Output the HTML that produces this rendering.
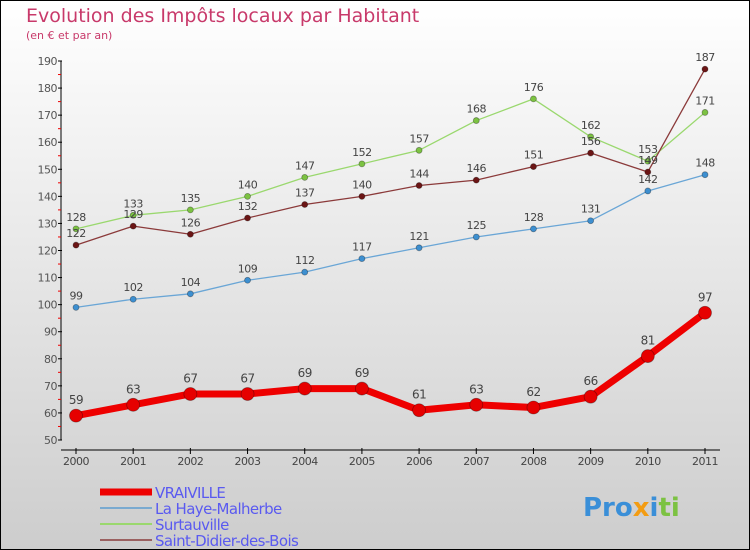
<!DOCTYPE html>
<html><head><meta charset="utf-8"><style>
body{margin:0}
svg{display:block;font-family:"DejaVu Sans","Liberation Sans",sans-serif}
</style></head><body>
<svg width="750" height="550" viewBox="0 0 750 550">
<defs><linearGradient id="bg" x1="0" y1="0" x2="0" y2="1"><stop offset="0" stop-color="#ffffff"/><stop offset="1" stop-color="#cdcdcd"/></linearGradient></defs>
<rect x="0.5" y="0.5" width="749" height="549" fill="url(#bg)" stroke="#000"/>
<text x="26" y="22" font-size="19" fill="#c8396a">Evolution des Impôts locaux par Habitant</text>
<text x="26" y="39" font-size="11" fill="#c8396a">(en € et par an)</text>
<g id="axes"></g>
<g id="series"></g>
<g id="legend"></g>
<text x="583" y="516" font-size="26" font-weight="bold"><tspan fill="#3a8fd8">Pro</tspan><tspan fill="#f39c12">x</tspan><tspan fill="#3a8fd8">i</tspan><tspan fill="#7cc242">ti</tspan></text>
</svg>
<script>
const years=[2000,2001,2002,2003,2004,2005,2006,2007,2008,2009,2010,2011];
const yTicks=[50,60,70,80,90,100,110,120,130,140,150,160,170,180,190];
const vraiville=[59,63,67,67,69,69,61,63,62,66,81,97];
const laHaye=[99,102,104,109,112,117,121,125,128,131,142,148];
const surtauville=[128,133,135,140,147,152,157,168,176,162,153,171];
const saintDidier=[122,129,126,132,137,140,144,146,151,156,149,187];
const NS="http://www.w3.org/2000/svg";
const xs=i=>76+i*(705-76)/11;
const ys=v=>440-(v-50)*(440-61)/140;
function mk(tag,attrs,parent,text){const e=document.createElementNS(NS,tag);for(const k in attrs)e.setAttribute(k,attrs[k]);if(text!==undefined)e.textContent=text;parent.appendChild(e);return e;}
const ax=document.getElementById('axes');
let l=mk('line',{x1:61,y1:61,x2:61,y2:440,stroke:'#000'},ax);


yTicks.forEach((v,i)=>{
 mk('line',{x1:58,y1:ys(v),x2:62,y2:ys(v),stroke:'#000'},ax);
 if(i<yTicks.length-1)mk('line',{x1:58,y1:ys(v+5),x2:61,y2:ys(v+5),stroke:'#e00'},ax);
 const t=mk('text',{x:57,y:ys(v)+4,'font-size':11,fill:'#555','text-anchor':'end','letter-spacing':'-0.5'},ax,v);
 
 
});
l=mk('line',{x1:61,y1:450,x2:720,y2:450,stroke:'#000'},ax);


years.forEach((y,i)=>{
 mk('line',{x1:xs(i),y1:448,x2:xs(i),y2:454,stroke:'#000'},ax);
 const t=mk('text',{x:xs(i),y:465,'font-size':11,fill:'#444','text-anchor':'middle','letter-spacing':'-0.5'},ax,y);
 
 
});
const sg=document.getElementById('series');
function series(name,data,color,dot,w,r,fs){
 const g=mk('g',{},sg);
 
 
 const p=mk('polyline',{points:data.map((v,i)=>xs(i)+','+ys(v)).join(' '),fill:'none',stroke:color,'stroke-width':w,'stroke-linejoin':'round'},g);
 
 
 data.forEach((v,i)=>{
  const c=mk('circle',{cx:xs(i),cy:ys(v),r:r,fill:dot,stroke:'rgba(0,0,0,0.35)','stroke-width':0.8},g);
  
  
  const t=mk('text',{x:xs(i),y:ys(v)-(r+5),'font-size':fs,fill:'#444','text-anchor':'middle','letter-spacing':'-0.5'},g,v);
  
  
 });
}
series('la-haye-malherbe',laHaye,'#6aa6d6','#3d8fd0',1.3,3,11);
series('surtauville',surtauville,'#9ad86e','#7cc242',1.3,3,11);
series('saint-didier-des-bois',saintDidier,'#8b3a3a','#6b1515',1.3,3,11);
series('vraiville',vraiville,'#ee0000','#e60000',7,6.5,12);
const lg=document.getElementById('legend');
const legNames=['VRAIVILLE','La Haye-Malherbe','Surtauville','Saint-Didier-des-Bois'];
const legColors=['#ee0000','#7aaad0','#9ad86e','#9a6060'];
const legW=[7,2,2,2];
legNames.forEach((n,i)=>{
 const y=492+i*16;
 const g=mk('g',{},lg);
 
 
 mk('line',{x1:100,y1:y,x2:152,y2:y,stroke:legColors[i],'stroke-width':legW[i]},g);
 mk('text',{x:155,y:y+6,'font-size':15,fill:'#5a5af0','letter-spacing':'-0.6'},g,n);
});
</script>
</body></html>
